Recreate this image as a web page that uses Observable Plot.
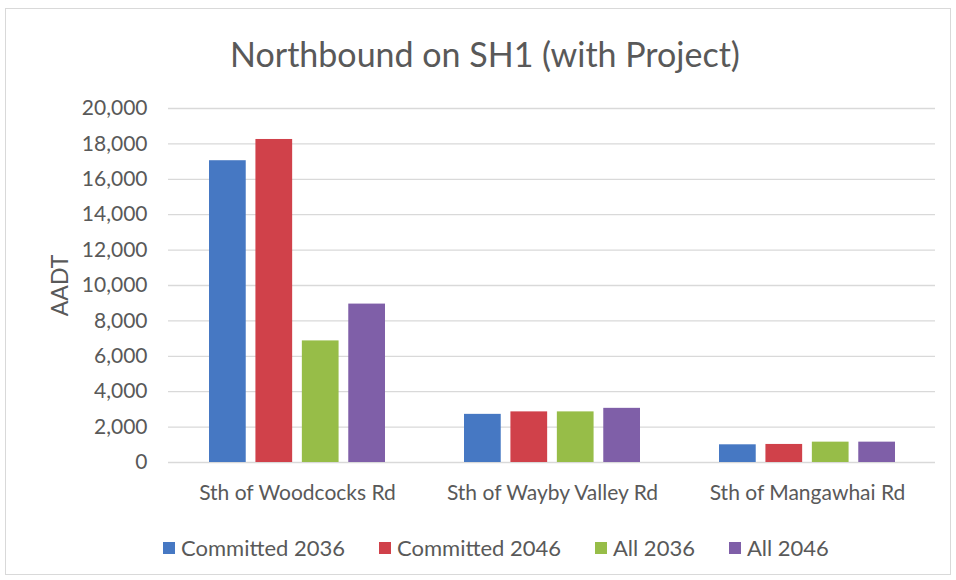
<!DOCTYPE html>
<html><head><meta charset="utf-8">
<script src="https://cdn.jsdelivr.net/npm/d3@7"></script>
<script src="https://cdn.jsdelivr.net/npm/@observablehq/plot@0.6"></script>
<style>
body{margin:0;background:#fff;font-family:Lato,"Open Sans",sans-serif;}
#wrap{position:relative;width:956px;height:580px;overflow:hidden;background:#fff;}
#frame{position:absolute;left:5px;top:8px;width:944px;height:565px;border:1px solid #d9d9d9;}
#title{position:absolute;top:33px;left:7px;width:956px;text-align:center;font-size:34px;color:#595959;}
#chart{position:absolute;top:90px;left:0;}
#legend{position:absolute;top:534px;left:163px;display:flex;align-items:center;font-size:22px;color:#595959;}
.item{display:flex;align-items:center;margin-right:34px;}
.sw{width:12px;height:12px;margin-right:6px;}
</style></head>
<body>
<div id="wrap">
  <div id="frame"></div>
  <div id="title">Northbound on SH1 (with Project)</div>
  <div id="chart"></div>
  <div id="legend"></div>
</div>
<script>
const groups = ["Sth of Woodcocks Rd", "Sth of Wayby Valley Rd", "Sth of Mangawhai Rd"];
const seriesNames = ["Committed 2036", "Committed 2046", "All 2036", "All 2046"];
const committed2036 = [17050, 2720, 1000];
const committed2046 = [18250, 2860, 1020];
const all2036 = [6870, 2860, 1150];
const all2046 = [8950, 3060, 1150];
const yTicks = [0, 2000, 4000, 6000, 8000, 10000, 12000, 14000, 16000, 18000, 20000];
const colors = ["#4678c3", "#d0414a", "#97bd48", "#7f5fa8"];

const seriesValues = [committed2036, committed2046, all2036, all2046];

// layout of bars within each group band (style only)
const W = 956, mL = 168, mR = 21, pIn = 0.31, pOut = 0.155;
const step = (W - mL - mR) / (groups.length - pIn + 2 * pOut);
const bandW = step * (1 - pIn);
const subStep = bandW / (seriesNames.length - 0.2);
const subW = subStep * 0.8;

const barMarks = seriesNames.map((s, si) => {
  const rows = groups.map((g, gi) => ({group: g, series: s, value: seriesValues[si][gi]}));
  const left = si * subStep;
  return Plot.barY(rows, {x: "group", y: "value", fill: colors[si], insetLeft: left, insetRight: bandW - left - subW});
});

const chart = Plot.plot({
  width: W, height: 430,
  marginTop: 18, marginBottom: 58, marginLeft: mL, marginRight: mR,
  style: {fontFamily: "Lato, 'Open Sans', sans-serif", fontSize: "21px", color: "#595959", background: "transparent"},
  x: {domain: groups, paddingInner: pIn, paddingOuter: pOut},
  y: {domain: [0, 20000]},
  marks: [
    Plot.ruleY(yTicks, {stroke: "#d9d9d9", strokeWidth: 1.3}),
    ...barMarks,
    Plot.axisY({ticks: yTicks, tickFormat: d3.format(","), tickSize: 0, tickPadding: 21, label: null, fontSize: 21}),
    Plot.axisY({ticks: [], tickSize: 0, label: "AADT", labelAnchor: "center", labelOffset: 117, labelArrow: "none", fontSize: 23}),
    Plot.axisX({anchor: "bottom", tickSize: 0, tickPadding: 23, label: null, fontSize: 21})
  ]
});
document.getElementById("chart").appendChild(chart);

const legend = document.getElementById("legend");
seriesNames.forEach((s, i) => {
  const it = document.createElement("div"); it.className = "item";
  const sw = document.createElement("div"); sw.className = "sw"; sw.style.background = colors[i];
  const t = document.createElement("span"); t.textContent = s;
  it.appendChild(sw); it.appendChild(t); legend.appendChild(it);
});
</script>
</body></html>
